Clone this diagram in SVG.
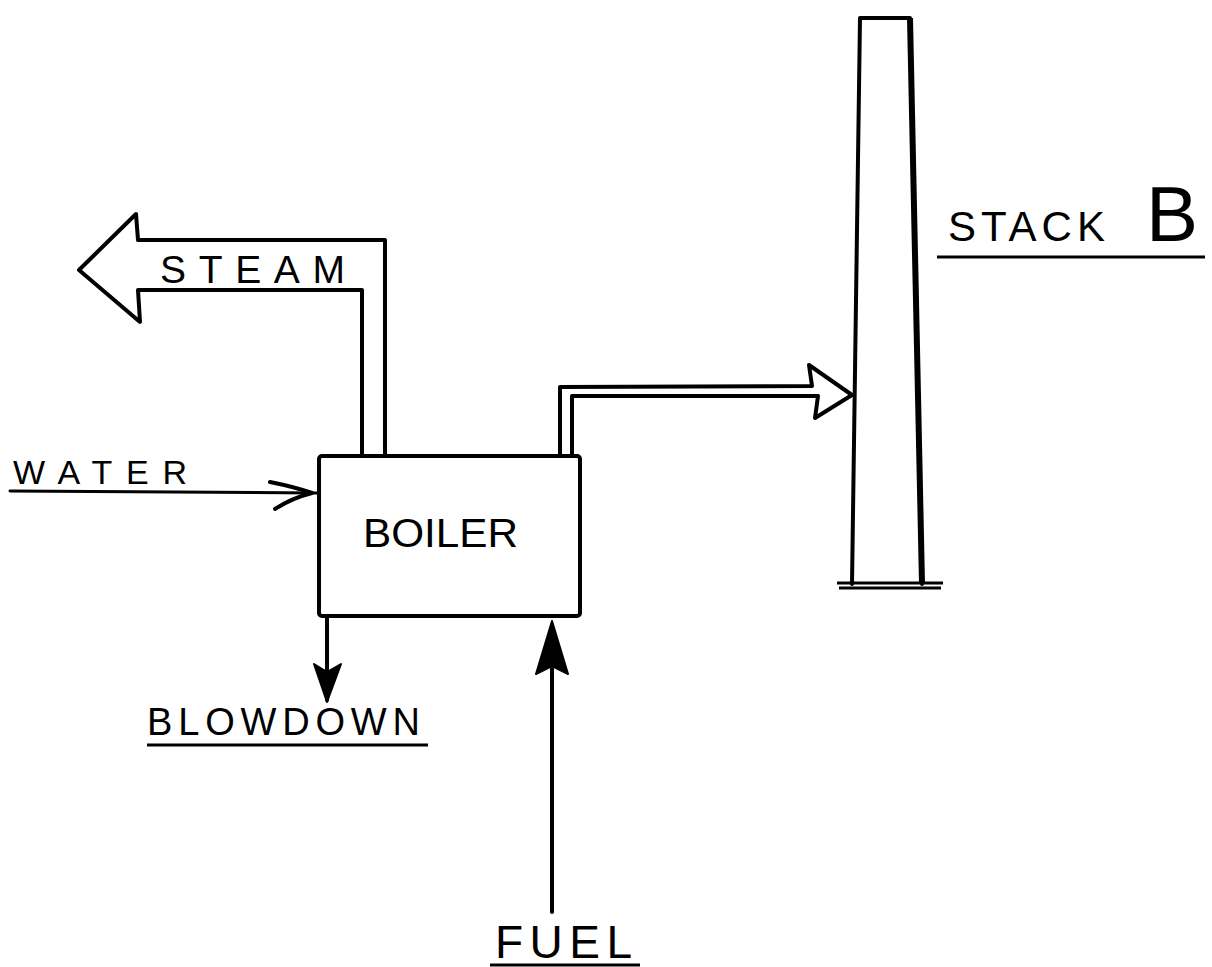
<svg xmlns="http://www.w3.org/2000/svg" width="1212" height="967" viewBox="0 0 1212 967">
<style>
.ln{fill:none;stroke:#000;stroke-width:4;stroke-linejoin:round;stroke-linecap:round}
.th{fill:none;stroke:#000;stroke-width:3;stroke-linejoin:round;stroke-linecap:round}
.lbl{font-family:"Liberation Sans",Arial,sans-serif;fill:#000;font-weight:normal}
.ul{stroke:#000;stroke-width:3;fill:none}
</style>
<rect width="1212" height="967" fill="#fff"/>
<g id="connectors">
<g id="steam">
<path class="ln" d="M362,456 L362,290 L138,290 L140,322 L79,270 L136,214 L138,240 L385,240 L385,456"/>
</g>
<g id="flue">
<path class="ln" d="M560,456 L560,387 L812,386 L809,365 L852,395 L815,418 L818,396 L572,396 L572,456"/>
</g>
<g id="water">
<path class="th" d="M10,491 L317,493"/>
<path class="ln" d="M270,482 Q295,487 312,493 Q292,498 275,509"/>
</g>
<g id="blowdown">
<path class="ln" d="M327,617 L327,700"/>
<path d="M314,664 L327,672 L341,664 L327,702 Z" fill="#000" stroke="#000" stroke-width="2" stroke-linejoin="round"/>
</g>
<g id="fuel">
<path class="ln" d="M552,912 L552,625"/>
<path d="M552,621 L568,674 L552,666 L536,674 Z" fill="#000" stroke="#000" stroke-width="2" stroke-linejoin="round"/>
</g>
</g>
<g id="boiler">
<rect x="319" y="456" width="261" height="160" rx="3" class="ln"/>
<text class="lbl" x="363" y="547" font-size="40" textLength="155" lengthAdjust="spacingAndGlyphs">BOILER</text>
</g>
<g id="stack">
<path class="ln" d="M852,584 L860,18 L910,18 L922,584"/>
<path d="M910,18 L922,584" fill="none" stroke="#000" stroke-width="6"/>
<path class="ul" d="M837,583 L943,583 M839,588 L941,588"/>
<text class="lbl" x="948" y="241" font-size="42" letter-spacing="5">STACK <tspan x="1146" font-size="78">B</tspan></text>
<path class="ul" d="M937,257 L1205,257"/>
</g>
<g id="labels">
<text class="lbl" x="160" y="283" font-size="39" textLength="185" lengthAdjust="spacing">STEAM</text>
<text class="lbl" x="13" y="484" font-size="34" textLength="174" lengthAdjust="spacing">WATER</text>
<text class="lbl" x="147" y="735" font-size="38" textLength="273" lengthAdjust="spacing">BLOWDOWN</text>
<path class="ul" d="M147,745 L428,745"/>
<text class="lbl" x="495" y="958" font-size="46" textLength="137" lengthAdjust="spacing">FUEL</text>
<path class="ul" d="M490,965 L640,965"/>
</g>
</svg>
